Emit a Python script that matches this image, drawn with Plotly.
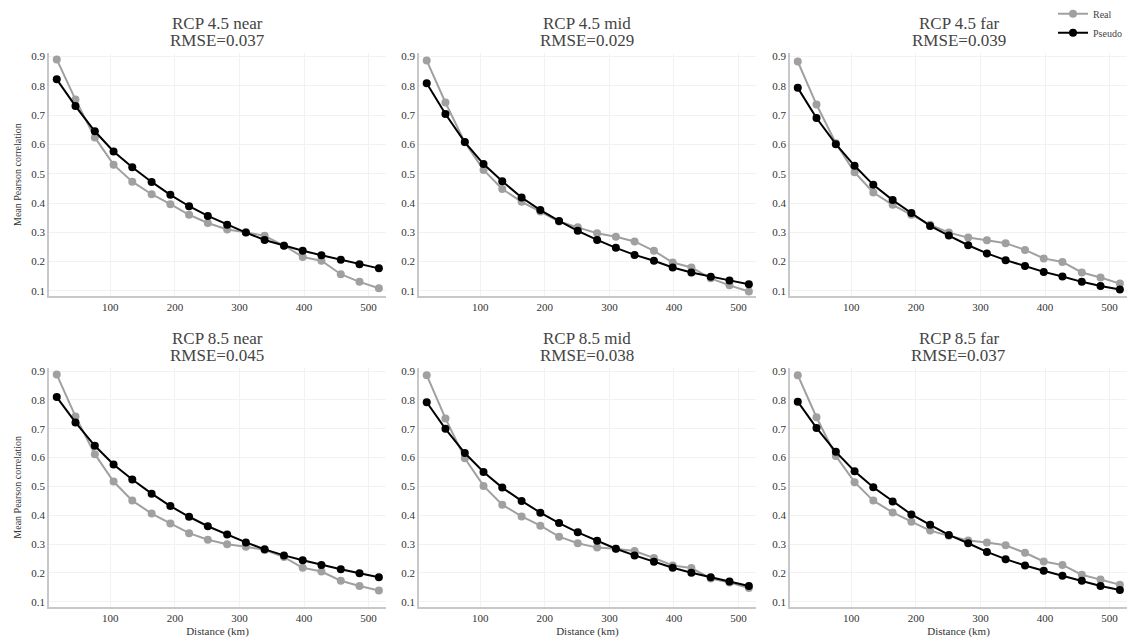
import plotly.graph_objects as go
from plotly.subplots import make_subplots

distance_km = [17, 46, 76, 105, 134, 164, 193, 222, 251, 281, 310, 339, 369, 398, 427, 457, 486, 516]

panel_titles = ["RCP 4.5 near", "RCP 4.5 mid", "RCP 4.5 far",
                "RCP 8.5 near", "RCP 8.5 mid", "RCP 8.5 far"]
panel_rmse = ["RMSE=0.037", "RMSE=0.029", "RMSE=0.039",
              "RMSE=0.045", "RMSE=0.038", "RMSE=0.037"]

real_45_near = [0.890, 0.753, 0.624, 0.531, 0.473, 0.430, 0.396, 0.360, 0.332, 0.310, 0.300, 0.288, 0.255, 0.216, 0.203, 0.157, 0.131, 0.109]
pseudo_45_near = [0.822, 0.731, 0.645, 0.576, 0.522, 0.472, 0.428, 0.389, 0.356, 0.326, 0.299, 0.274, 0.254, 0.237, 0.222, 0.206, 0.191, 0.177]

real_45_mid = [0.886, 0.743, 0.607, 0.513, 0.448, 0.404, 0.371, 0.337, 0.317, 0.297, 0.285, 0.269, 0.237, 0.197, 0.180, 0.143, 0.119, 0.098]
pseudo_45_mid = [0.809, 0.704, 0.608, 0.533, 0.474, 0.419, 0.376, 0.339, 0.305, 0.274, 0.247, 0.223, 0.203, 0.180, 0.163, 0.148, 0.136, 0.123]

real_45_far = [0.883, 0.736, 0.604, 0.505, 0.436, 0.394, 0.360, 0.326, 0.299, 0.282, 0.273, 0.263, 0.240, 0.211, 0.199, 0.163, 0.146, 0.125]
pseudo_45_far = [0.793, 0.690, 0.601, 0.527, 0.462, 0.410, 0.366, 0.322, 0.289, 0.256, 0.228, 0.205, 0.185, 0.165, 0.149, 0.131, 0.117, 0.105]

real_85_near = [0.888, 0.743, 0.612, 0.517, 0.451, 0.406, 0.372, 0.338, 0.315, 0.300, 0.291, 0.280, 0.255, 0.218, 0.205, 0.173, 0.155, 0.139]
pseudo_85_near = [0.810, 0.722, 0.641, 0.576, 0.524, 0.475, 0.432, 0.395, 0.362, 0.333, 0.306, 0.282, 0.261, 0.244, 0.228, 0.213, 0.199, 0.185]

real_85_mid = [0.886, 0.736, 0.598, 0.502, 0.437, 0.396, 0.364, 0.326, 0.303, 0.288, 0.284, 0.276, 0.252, 0.226, 0.217, 0.181, 0.167, 0.148]
pseudo_85_mid = [0.792, 0.700, 0.616, 0.550, 0.496, 0.450, 0.409, 0.373, 0.341, 0.312, 0.284, 0.261, 0.239, 0.218, 0.201, 0.185, 0.170, 0.155]

real_85_far = [0.886, 0.740, 0.606, 0.515, 0.451, 0.410, 0.378, 0.347, 0.329, 0.313, 0.306, 0.296, 0.270, 0.240, 0.228, 0.194, 0.177, 0.159]
pseudo_85_far = [0.794, 0.703, 0.620, 0.553, 0.497, 0.448, 0.403, 0.367, 0.332, 0.303, 0.273, 0.248, 0.226, 0.208, 0.190, 0.173, 0.155, 0.141]

real_series = [real_45_near, real_45_mid, real_45_far, real_85_near, real_85_mid, real_85_far]
pseudo_series = [pseudo_45_near, pseudo_45_mid, pseudo_45_far, pseudo_85_near, pseudo_85_mid, pseudo_85_far]

x_ticks = [100, 200, 300, 400, 500]
y_ticks = [0.1, 0.2, 0.3, 0.4, 0.5, 0.6, 0.7, 0.8, 0.9]

FONT = "Liberation Serif"
REAL_C = "#a0a0a0"
PSEUDO_C = "#000000"

fig = make_subplots(rows=2, cols=3)

col_domains = [[0.0, 0.3126], [0.3432, 0.6558], [0.6874, 1.0]]
row_domains = [[0.561, 1.0], [0.0, 0.432]]

for i in range(6):
    r = i // 3 + 1
    c = i % 3 + 1
    fig.add_trace(go.Scatter(x=distance_km, y=real_series[i], mode="lines+markers", name="Real",
                             line=dict(color=REAL_C, width=2), marker=dict(color=REAL_C, size=8),
                             showlegend=(i == 0), legendgroup="real"), row=r, col=c)
    fig.add_trace(go.Scatter(x=distance_km, y=pseudo_series[i], mode="lines+markers", name="Pseudo",
                             line=dict(color=PSEUDO_C, width=2), marker=dict(color=PSEUDO_C, size=8),
                             showlegend=(i == 0), legendgroup="pseudo"), row=r, col=c)
    fig.update_xaxes(row=r, col=c, domain=col_domains[c - 1], range=[5, 527], tickvals=x_ticks,
                     showgrid=True, gridcolor="#f2f2f2", gridwidth=1, zeroline=False,
                     showline=True, linecolor="#c8c8c8", linewidth=1.5, ticks="",
                     tickfont=dict(family=FONT, size=11, color="#333333"),
                     title=dict(text="Distance (km)" if r == 2 else "", font=dict(family=FONT, size=11, color="#333333"), standoff=4))
    fig.update_yaxes(row=r, col=c, domain=row_domains[r - 1], range=[0.082, 0.912], tickvals=y_ticks,
                     tickformat=".1f", showgrid=True, gridcolor="#f2f2f2", gridwidth=1, zeroline=False,
                     showline=True, linecolor="#c8c8c8", linewidth=1.5, ticks="",
                     tickfont=dict(family=FONT, size=11, color="#333333"),
                     title=dict(text="Mean Pearson correlation" if c == 1 else "", font=dict(family=FONT, size=10, color="#333333"), standoff=8))

annotations = []
title_y = [1.0, 0.432]
for i in range(6):
    r = i // 3
    c = i % 3
    xc = sum(col_domains[c]) / 2
    annotations.append(dict(text=panel_titles[i], x=xc, y=title_y[r], xref="paper", yref="paper",
                            xanchor="center", yanchor="bottom", showarrow=False, yshift=18,
                            font=dict(family=FONT, size=17, color="#444444")))
    annotations.append(dict(text=panel_rmse[i], x=xc, y=title_y[r], xref="paper", yref="paper",
                            xanchor="center", yanchor="bottom", showarrow=False, yshift=1,
                            font=dict(family=FONT, size=17, color="#444444")))

fig.update_layout(
    width=1135, height=644,
    margin=dict(l=49, r=8, t=53, b=37, autoexpand=False),
    paper_bgcolor="white", plot_bgcolor="white",
    font=dict(family=FONT, color="#333333"),
    annotations=annotations,
    legend=dict(x=1.0, y=1.097, xanchor="right", yanchor="top", font=dict(family=FONT, size=10, color="#444444"),
                bgcolor="rgba(0,0,0,0)", itemwidth=30, tracegroupgap=0),
)

fig.write_html("out.html")
